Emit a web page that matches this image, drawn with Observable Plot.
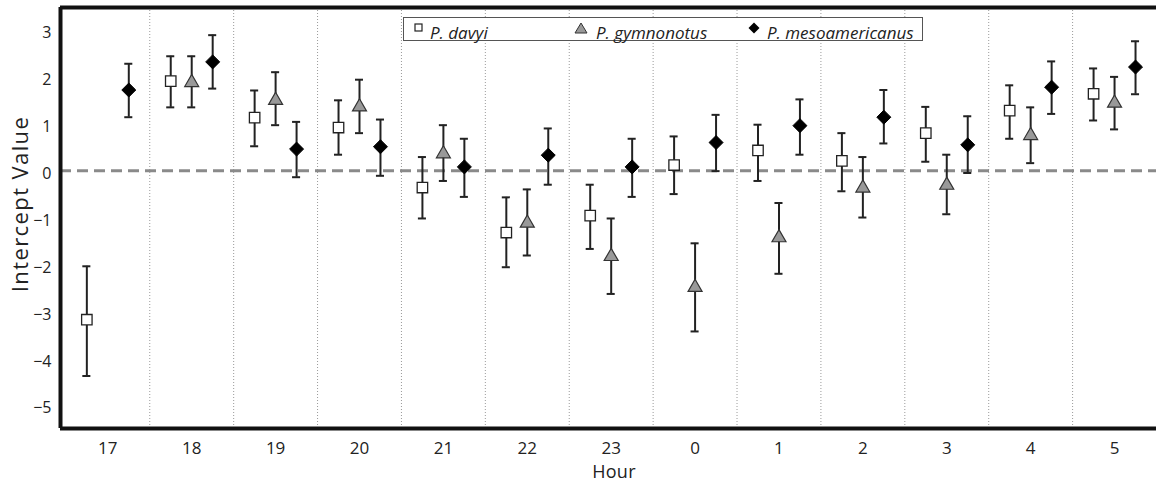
<!DOCTYPE html>
<html>
<head>
<meta charset="utf-8">
<script src="https://cdn.jsdelivr.net/npm/d3@7"></script>
<script src="https://cdn.jsdelivr.net/npm/@observablehq/plot@0.6"></script>
<style>
  html, body { margin: 0; padding: 0; background: #fff; }
  #wrap { position: relative; width: 1156px; height: 483px; font-family: "Open Sans", sans-serif; color: #222; }
  #wrap > svg, #chart svg { position: absolute; left: 0; top: 0; }
  .lab { position: absolute; white-space: nowrap; line-height: 1; color: #222; }
</style>
</head>
<body>
<div id="wrap">
  <div id="chart"></div>
  <div class="lab" id="ylab" style="left:19px; top:204px; font-size:22px; letter-spacing:1.4px; transform: translate(-50%,-50%) rotate(-90deg);">Intercept Value</div>
  <div class="lab" id="xlab" style="left:614px; top:461.5px; font-size:18px; letter-spacing:0.3px; transform: translateX(-50%);">Hour</div>
</div>
<script>
// ---- data ----
const hours = ["17","18","19","20","21","22","23","0","1","2","3","4","5"];
const species = ["P. davyi", "P. gymnonotus", "P. mesoamericanus"];

const davyiMean = [-3.11, 1.98, 1.20, 0.99, -0.29, -1.25, -0.89, 0.19, 0.50, 0.28, 0.87, 1.35, 1.71];
const davyiLow  = [-4.31, 1.42, 0.59, 0.41, -0.95, -1.99, -1.60, -0.43, -0.15, -0.37, 0.26, 0.75, 1.14];
const davyiHigh = [-1.97, 2.51, 1.78, 1.57, 0.36, -0.50, -0.23, 0.80, 1.05, 0.87, 1.43, 1.89, 2.25];

const gymMean = [null, 1.95, 1.57, 1.43, 0.43, -1.05, -1.76, -2.42, -1.36, -0.30, -0.24, 0.82, 1.51];
const gymLow  = [null, 1.42, 1.04, 0.87, -0.15, -1.74, -2.56, -3.36, -2.13, -0.93, -0.86, 0.23, 0.95];
const gymHigh = [null, 2.51, 2.17, 2.01, 1.04, -0.33, -0.95, -1.48, -0.62, 0.36, 0.41, 1.42, 2.07];

const mesoMean = [1.79, 2.39, 0.53, 0.58, 0.15, 0.40, 0.15, 0.67, 1.03, 1.21, 0.62, 1.85, 2.28];
const mesoLow  = [1.21, 1.82, -0.07, -0.04, -0.49, -0.23, -0.49, 0.06, 0.41, 0.65, 0.02, 1.28, 1.70];
const mesoHigh = [2.35, 2.96, 1.11, 1.16, 0.75, 0.97, 0.75, 1.26, 1.59, 1.79, 1.23, 2.40, 2.83];

const yTicks = [-5, -4, -3, -2, -1, 0, 1, 2, 3];
const referenceLine = 0.07;

// ---- build table ----
const series = [
  {name: species[0], mean: davyiMean, low: davyiLow, high: davyiHigh},
  {name: species[1], mean: gymMean, low: gymLow, high: gymHigh},
  {name: species[2], mean: mesoMean, low: mesoLow, high: mesoHigh}
];
const offset = {[species[0]]: -0.25, [species[1]]: 0, [species[2]]: 0.25};
const rows = [];
series.forEach(s => hours.forEach((h, i) => {
  if (s.mean[i] != null) rows.push({i, hour: h, species: s.name, mean: s.mean[i], low: s.low[i], high: s.high[i]});
}));
const px = d => d.i + offset[d.species];
const cap = 0.048;
const xDomain = [-0.564, hours.length - 0.5];
const yDomain = [-5.43, 3.55];
const bySp = n => rows.filter(d => d.species === n);

const plot = Plot.plot({
  width: 1156,
  height: 483,
  marginLeft: 60,
  marginRight: 0,
  marginTop: 7,
  marginBottom: 55,
  style: {fontFamily: "Open Sans, sans-serif", fontSize: "16px", color: "#222", background: "transparent"},
  x: {type: "linear", domain: xDomain},
  y: {domain: yDomain},
  marks: [
    Plot.ruleX(d3.range(hours.length - 1), {x: i => i + 0.5, stroke: "#9a9a9a", strokeWidth: 1, strokeDasharray: "1,2"}),
    Plot.ruleY([referenceLine], {stroke: "#8a8a8a", strokeWidth: 3, strokeDasharray: "11,6"}),
    Plot.ruleX(rows, {x: px, y1: "low", y2: "high", stroke: "#222", strokeWidth: 2}),
    Plot.ruleY(rows, {y: "low", x1: d => px(d) - cap, x2: d => px(d) + cap, stroke: "#222", strokeWidth: 2}),
    Plot.ruleY(rows, {y: "high", x1: d => px(d) - cap, x2: d => px(d) + cap, stroke: "#222", strokeWidth: 2}),
    Plot.dot(bySp(species[0]), {x: px, y: "mean", symbol: "square", r: 5.9, fill: "white", stroke: "#222", strokeWidth: 1.3}),
    Plot.dot(bySp(species[1]), {x: px, y: "mean", symbol: "triangle", r: 5.2, fill: "#999", stroke: "#333", strokeWidth: 1.2}),
    Plot.dot(bySp(species[2]), {x: px, y: "mean", symbol: "diamond2", r: 6.3, fill: "#000", stroke: "#000", strokeWidth: 1}),
    Plot.ruleX([xDomain[0]], {stroke: "#111", strokeWidth: 4}),
    Plot.ruleY([yDomain[0], yDomain[1]], {stroke: "#111", strokeWidth: 4}),
    Plot.axisY({ticks: yTicks, tickSize: 0, tickPadding: 9, label: null, fontSize: 16}),
    Plot.axisX({ticks: d3.range(hours.length), tickFormat: i => hours[i], tickSize: 0, tickPadding: 13, label: null, fontSize: 17})
  ]
});
document.getElementById("chart").appendChild(plot);

// ---- legend (inside plot area) ----
const ns = "http://www.w3.org/2000/svg";
const lg = document.createElementNS(ns, "svg");
lg.setAttribute("width", 1156); lg.setAttribute("height", 483);
lg.style.position = "absolute"; lg.style.left = "0"; lg.style.top = "0";
lg.innerHTML = `
  <rect x="403.5" y="17.5" width="519" height="23" fill="white" stroke="#555" stroke-width="1"/>
  <rect x="415" y="24" width="7" height="7" fill="white" stroke="#222" stroke-width="1.2"/>
  <polygon points="575,33 587,33 581,23" fill="#999" stroke="#333" stroke-width="1"/>
  <polygon points="754,22.5 759.5,28 754,33.5 748.5,28" fill="#000"/>
  <g font-family="Open Sans, sans-serif" font-style="italic" font-size="17" fill="#222">
    <text x="430" y="39">${species[0]}</text>
    <text x="596" y="39">${species[1]}</text>
    <text x="767" y="39">${species[2]}</text>
  </g>`;
document.getElementById("wrap").appendChild(lg);
</script>
</body>
</html>
